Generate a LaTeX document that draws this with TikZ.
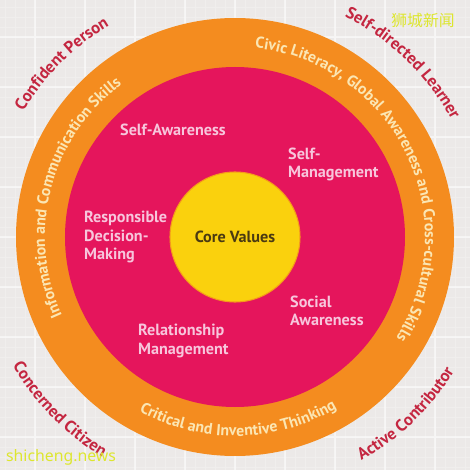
\documentclass[tikz,border=0pt]{standalone}
\usepackage{fontspec}
\setmainfont{PT Sans}
\newfontfamily\cjkfont{Noto Sans CJK SC}
\newfontfamily\markfont{Noto Sans}
\usetikzlibrary{positioning, decorations.text}
\definecolor{bgpaper}{HTML}{ECE9E8}
\definecolor{ringorange}{HTML}{F48C1F}
\definecolor{corepink}{HTML}{E5155C}
\definecolor{coreyellow}{HTML}{FAD10D}
\definecolor{outred}{HTML}{C42640}
\definecolor{ringtxt}{HTML}{FBE6B3}
\definecolor{pinktxt}{HTML}{F7C6DC}
\definecolor{coretxt}{HTML}{4A3A12}
\definecolor{marktxt}{HTML}{DDE62E}
\newcommand\ringfont{\fontsize{9}{10}\selectfont\bfseries}
\newcommand\outfont{\fontsize{9.5}{11}\selectfont\bfseries}

\begin{document}
\begin{tikzpicture}[x=0.02cm, y=0.02cm, font=\fontsize{9.2}{10.3}\selectfont\bfseries,
    skill/.style={text=pinktxt, align=left, anchor=west},
    ringtext/.style={decorate, decoration={text along path, text align=center, text={|\color{ringtxt}\ringfont|#1}}},
    outtext/.style={decorate, decoration={text along path, text align=center, text={|\color{outred}\outfont|#1}}}]
    \useasboundingbox (-235,-233) rectangle (235,237);
    \fill[bgpaper] (-235,-233) rectangle (235,237);
    \draw[white, opacity=0.25, step=10] (-235,-233) grid (235,237);
    \draw[white, opacity=0.5, line width=0.6pt, step=50] (-235,-233) grid (235,237);
    \fill[ringorange] (0,0) circle (219);
    \fill[corepink] (0,0) circle (170);
    \filldraw[fill=coreyellow, draw=ringorange!80!coreyellow, line width=0.6pt] (0,0) circle (65);
    \path[ringtext={Civic Literacy, Global Awareness and Cross-cultural Skills}] (96:190) arc[start angle=96, end angle=-44, radius=190];
    \path[ringtext={Information and Communication Skills}] (235:190) arc[start angle=235, end angle=96, radius=190];
    \path[ringtext={Critical and Inventive Thinking}] (226:199) arc[start angle=226, end angle=316, radius=199];
    \path[outtext={Confident Person}] (170:246) arc[start angle=170, end angle=100, radius=246];
    \path[outtext={Self-directed Learner}] (80:246) arc[start angle=80, end angle=12, radius=246];
    \path[outtext={Concerned Citizen}] (190:257) arc[start angle=190, end angle=259, radius=257];
    \path[outtext={Active Contributor}] (-81:257) arc[start angle=-81, end angle=-11, radius=257];
    \node[text=pinktxt] (selfaware) at (-62,107) {Self-Awareness};
    \node[skill] (selfmanage) at (47,73) {Self-\\Management};
    \node[skill] (decision) at (-157,0) {Responsible\\Decision-\\Making};
    \node[text=coretxt] (core) at (0,0) {Core Values};
    \node[skill] (social) at (49,-74) {Social\\Awareness};
    \node[skill] (relation) at (-103,-104) {Relationship\\Management};
    \node[text=marktxt, font=\cjkfont\fontsize{9}{10}\selectfont] (markcn) at (188,217) {狮城新闻};
    \node[text=marktxt, font=\markfont\fontsize{9}{11}\selectfont] (markweb) at (-174,-220) {shicheng.news};
\end{tikzpicture}
\end{document}
